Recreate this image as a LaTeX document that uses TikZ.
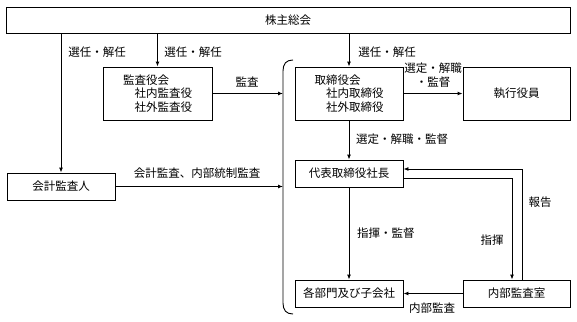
\documentclass[tikz,border=0pt]{standalone}
\usepackage{fontspec}
\setmainfont{Noto Sans CJK JP}
\usetikzlibrary{arrows.meta}
\begin{document}
\begin{tikzpicture}[x=1pt,y=-1pt,
  box/.style={draw, line width=0.9pt, inner sep=0pt, font=\fontsize{11.5}{13.5}\selectfont},
  lbl/.style={inner sep=0pt, font=\fontsize{11.5}{14}\selectfont},
  conn/.style={line width=0.9pt},
  arr/.style={conn, -{Latex[length=5pt,width=4pt]}}]
\useasboundingbox (0,0) rectangle (577,321);
% boxes
\node[box, minimum width=564pt, minimum height=26pt] (top) at (288,20) {株主総会};
\node[box, minimum width=109pt, minimum height=53pt, align=left] (kansa) at (157.5,93.5)
  {監査役会\\\hspace*{1em}社内監査役\\\hspace*{1em}社外監査役};
\node[box, minimum width=108pt, minimum height=53pt, align=left] (tori) at (349,93.5)
  {取締役会\\\hspace*{1em}社内取締役\\\hspace*{1em}社外取締役};
\node[box, minimum width=107pt, minimum height=53pt] (shikko) at (516.5,93.5) {執行役員};
\node[box, minimum width=108pt, minimum height=27pt] (kaikei) at (61,186.5) {会計監査人};
\node[box, minimum width=108pt, minimum height=27pt] (daihyo) at (349,173.5) {代表取締役社長};
\node[box, minimum width=108pt, minimum height=27pt] (bumon) at (349,293.5) {各部門及び子会社};
\node[box, minimum width=107pt, minimum height=27pt] (naibu) at (516.5,293.5) {内部監査室};
% bracket
\coordinate (brk) at (283,94);
\draw[conn] (293,60) .. controls (286,60) and (283,64) .. (283,71) -- (283,303) .. controls (283,310) and (286,314) .. (293,314);
% connectors
\draw[arr] (top.south -| kaikei) -- (kaikei.north);
\draw[arr] (top.south -| kansa) -- (kansa.north);
\draw[arr] (top.south -| tori) -- (tori.north);
\draw[arr] (kansa.east) -- (kansa.east -| brk);
\draw[arr] (kaikei.east) -- (kaikei.east -| brk);
\draw[arr] (tori.east) -- (shikko.west);
\draw[arr] (tori.south) -- (daihyo.north);
\draw[arr] (daihyo.south) -- (bumon.north);
\draw[arr] ([yshift=-4.5pt]daihyo.east) -| ([xshift=-4.5pt]naibu.north);
\draw[arr] ([xshift=5.5pt]naibu.north) |- ([yshift=4.5pt]daihyo.east);
\draw[arr] (naibu.west) -- (bumon.east);
% labels
\node[lbl] at (97,52) {選任・解任};
\node[lbl] at (193,52) {選任・解任};
\node[lbl] at (387,52) {選任・解任};
\node[lbl] at (247,82) {監査};
\node[lbl, align=center] at (433,75) {選定・解職\\・監督};
\node[lbl] at (197,173) {会計監査、内部統制監査};
\node[lbl, anchor=west] at (356,139) {選定・解職・監督};
\node[lbl, anchor=west] at (357,233) {指揮・監督};
\node[lbl] at (492,240) {指揮};
\node[lbl] at (540,202) {報告};
\node[lbl] at (432,308) {内部監査};
\end{tikzpicture}
\end{document}
